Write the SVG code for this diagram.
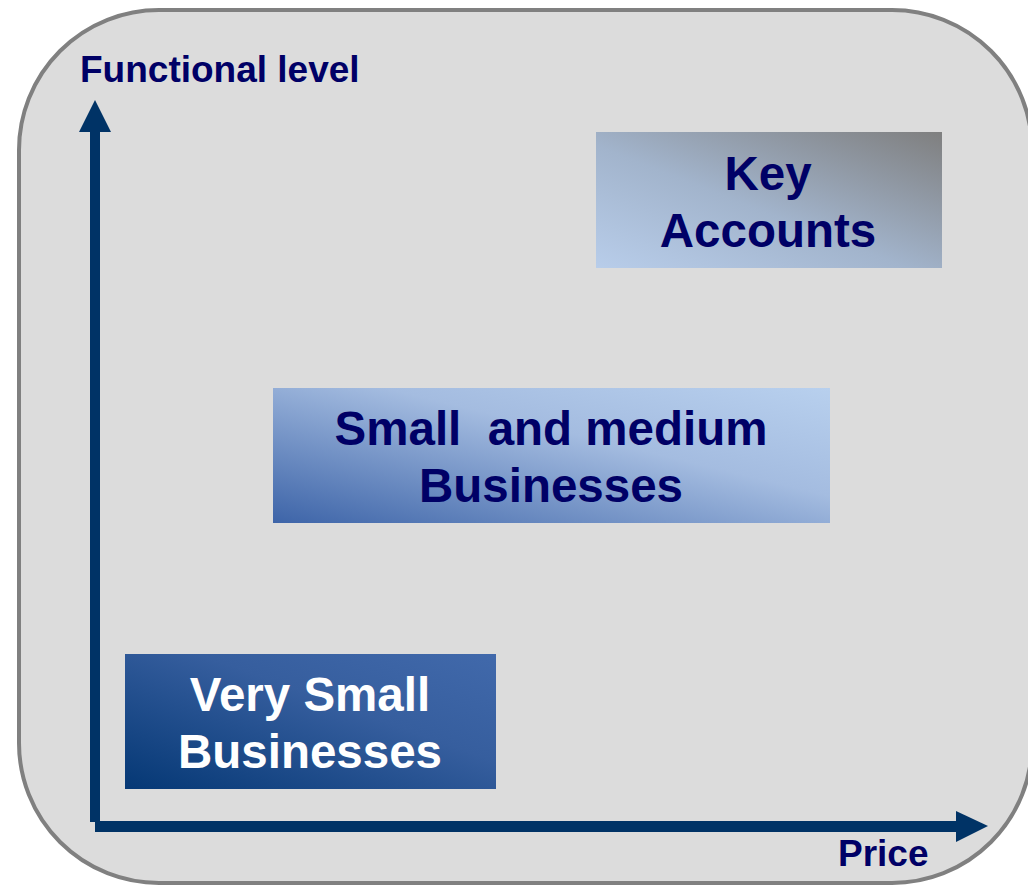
<svg xmlns="http://www.w3.org/2000/svg" width="1028" height="886" viewBox="0 0 1028 886">
<defs>
<style>
.lbl{font-family:"Liberation Sans",Arial,sans-serif;font-weight:bold;fill:#000066;}
.box{font-family:"Liberation Sans",Arial,sans-serif;font-weight:bold;font-size:47.5px;text-anchor:middle;}
.axis{fill:#003366;}
</style>
<linearGradient id="gKey" x1="0" y1="1" x2="1" y2="0">
<stop offset="0" stop-color="#b8cdea"/>
<stop offset="0.45" stop-color="#a2b4cc"/>
<stop offset="1" stop-color="#7f7f7f"/>
</linearGradient>
<linearGradient id="gSmb" x1="0" y1="1" x2="1" y2="0">
<stop offset="0" stop-color="#3d64a8"/>
<stop offset="0.6" stop-color="#a4bce0"/>
<stop offset="1" stop-color="#b8d0ee"/>
</linearGradient>
<linearGradient id="gVsb" x1="0" y1="1" x2="1" y2="0">
<stop offset="0" stop-color="#053875"/>
<stop offset="0.6" stop-color="#365e9e"/>
<stop offset="1" stop-color="#4169ab"/>
</linearGradient>
</defs>
<rect x="0" y="0" width="1028" height="886" fill="#ffffff"/>
<rect id="frame" x="19" y="10" width="1013" height="873" rx="140" ry="140" fill="#dcdcdc" stroke="#808080" stroke-width="4"/>
<g id="connectors">
<rect class="axis" x="90" y="130" width="10" height="692"/>
<polygon class="axis" points="95,100 111,132 79,132"/>
<rect class="axis" x="95" y="821" width="863" height="11"/>
<polygon class="axis" points="988,826 956,811 956,842"/>
</g>
<g id="axis-y-label"><text class="lbl" x="80" y="82" font-size="37">Functional level</text></g>
<g id="axis-x-label"><text class="lbl" x="838" y="866" font-size="37">Price</text></g>
<g id="key-accounts">
<rect x="596" y="132" width="346" height="136" fill="url(#gKey)"/>
<text class="box" x="768" y="190" fill="#000066">Key</text>
<text class="box" x="768" y="247" fill="#000066">Accounts</text>
</g>
<g id="small-medium">
<rect x="273" y="388" width="557" height="135" fill="url(#gSmb)"/>
<text class="box" x="551" y="445" fill="#000066" xml:space="preserve">Small  and medium</text>
<text class="box" x="551" y="502" fill="#000066">Businesses</text>
</g>
<g id="very-small">
<rect x="125" y="654" width="371" height="135" fill="url(#gVsb)"/>
<text class="box" x="310" y="711" fill="#ffffff">Very Small</text>
<text class="box" x="310" y="768" fill="#ffffff">Businesses</text>
</g>
</svg>
